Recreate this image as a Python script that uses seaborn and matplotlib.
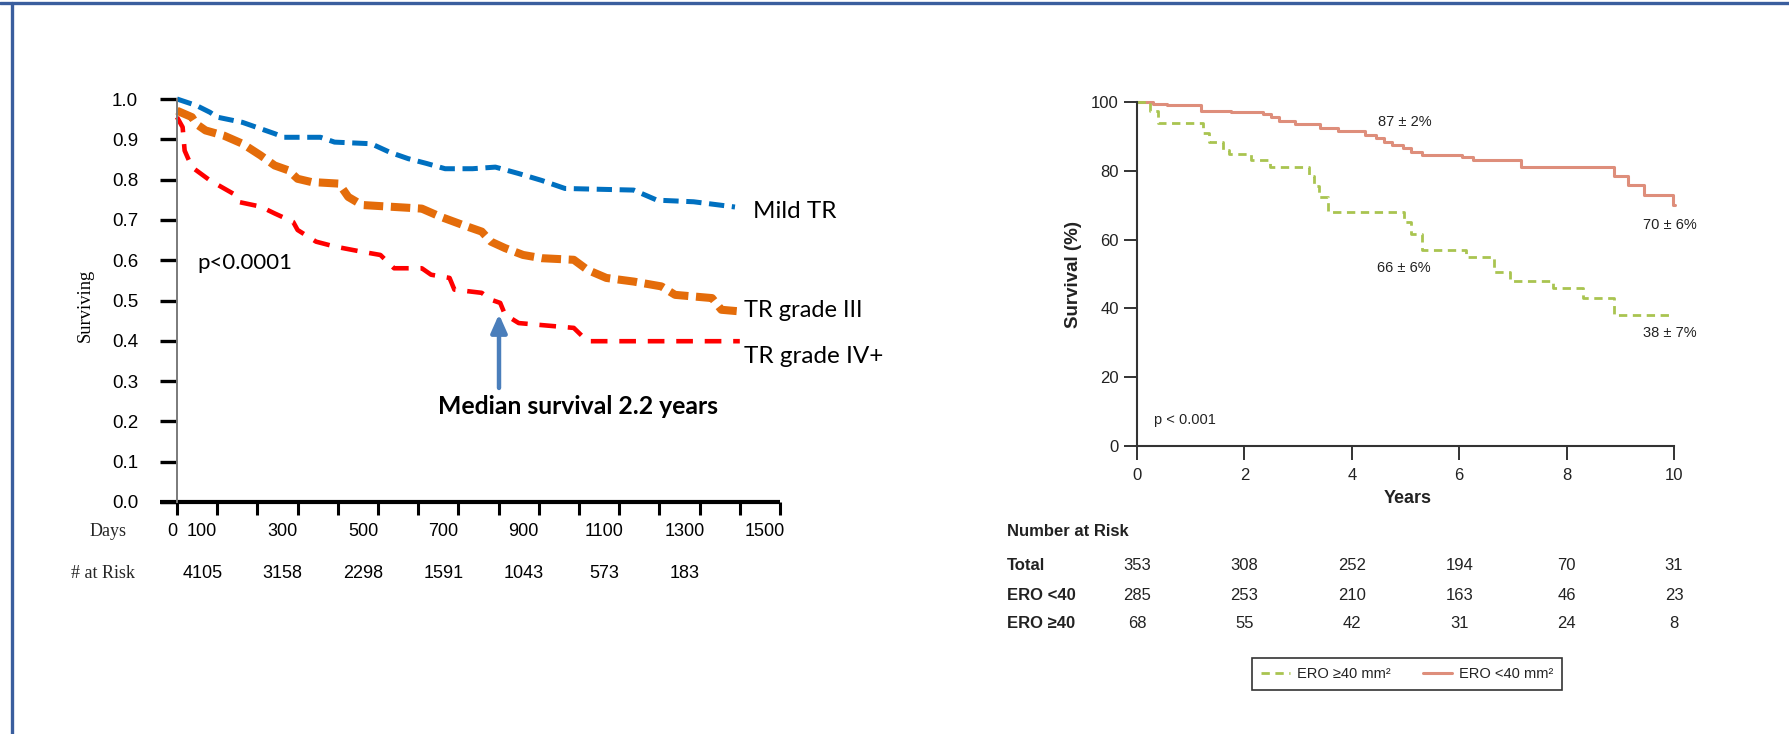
import matplotlib
matplotlib.use("Agg")
import matplotlib.pyplot as plt
import seaborn as sns
import numpy as np
import pandas as pd
from matplotlib import transforms as mtransforms
from matplotlib.lines import Line2D

# ---------------- data: left chart (days vs surviving fraction) ----------------
mild_days = [0, 48, 82, 100, 163, 243, 266, 357, 392, 483, 529, 575, 621, 667, 735, 792, 850, 907, 965, 1136, 1194, 1285, 1388]
mild_surv = [1.0, 0.984, 0.967, 0.955, 0.942, 0.914, 0.905, 0.905, 0.893, 0.889, 0.868, 0.852, 0.84, 0.827, 0.827, 0.831, 0.815, 0.798, 0.778, 0.774, 0.749, 0.745, 0.732]
g3_days = [0, 37, 48, 71, 117, 163, 208, 243, 277, 300, 334, 403, 426, 460, 609, 655, 712, 758, 781, 816, 861, 907, 987, 1021, 1068, 1136, 1205, 1239, 1331, 1354, 1400]
g3_surv = [0.971, 0.955, 0.938, 0.922, 0.909, 0.889, 0.86, 0.835, 0.823, 0.802, 0.794, 0.79, 0.757, 0.737, 0.728, 0.708, 0.687, 0.671, 0.646, 0.63, 0.613, 0.605, 0.601, 0.576, 0.556, 0.547, 0.535, 0.514, 0.506, 0.477, 0.473]
g4_days = [0, 14, 19, 37, 82, 140, 151, 208, 243, 289, 300, 346, 392, 460, 506, 540, 609, 632, 678, 690, 758, 781, 804, 816, 850, 987, 1021, 1400]
g4_surv = [0.955, 0.93, 0.872, 0.831, 0.798, 0.765, 0.745, 0.733, 0.716, 0.695, 0.675, 0.646, 0.634, 0.621, 0.613, 0.58, 0.58, 0.564, 0.556, 0.527, 0.519, 0.502, 0.494, 0.465, 0.444, 0.432, 0.399, 0.399]
left_series = ["Mild TR", "TR grade III", "TR grade IV+"]
day_labels = [0, 100, 300, 500, 700, 900, 1100, 1300, 1500]
risk_days = [100, 300, 500, 700, 900, 1100, 1300]
risk_counts = [4105, 3158, 2298, 1591, 1043, 573, 183]
left_yticks = [0.0, 0.1, 0.2, 0.3, 0.4, 0.5, 0.6, 0.7, 0.8, 0.9, 1.0]

# ---------------- data: right chart (years vs survival %) ----------------
lo_years = [0, 0.3, 0.55, 1.2, 1.75, 2.35, 2.5, 2.65, 2.95, 3.4, 3.75, 4.25, 4.45, 4.6, 4.75, 4.95, 5.1, 5.3, 6.05, 6.25, 7.15, 8.88, 9.15, 9.45, 9.98, 10.02]
lo_surv = [100, 99.5, 99, 97.5, 97, 96.5, 95.5, 94.5, 93.5, 92.5, 91.5, 90.5, 89.5, 88.5, 87.5, 86.5, 85.5, 84.5, 84, 83, 81, 78.5, 76, 73, 70, 70]
hi_years = [0, 0.25, 0.4, 1.22, 1.35, 1.6, 1.72, 2.12, 2.48, 3.2, 3.3, 3.38, 3.55, 4.97, 5.1, 5.3, 6.12, 6.65, 6.95, 7.75, 8.3, 8.88, 10.0]
hi_surv = [100, 97.5, 94, 91, 88.5, 86, 85, 83, 81, 78.5, 75.5, 72.5, 68, 65, 61.5, 57, 55, 50.5, 48, 46, 43, 38, 38]
right_labels = ["ERO \u226540 mm\u00b2", "ERO <40 mm\u00b2"]
year_ticks = [0, 2, 4, 6, 8, 10]
pct_ticks = [0, 20, 40, 60, 80, 100]
risk_rows = ["Total", "ERO <40", "ERO \u226540"]
risk_total = [353, 308, 252, 194, 70, 31]
risk_lo = [285, 253, 210, 163, 46, 23]
risk_hi = [68, 55, 42, 31, 24, 8]
annot_text = ["87 \u00b1 2%", "70 \u00b1 6%", "66 \u00b1 6%", "38 \u00b1 7%"]
annot_x = [4.98, 9.93, 4.97, 9.93]
annot_y = [94.2, 64.2, 51.7, 32.8]

# ---------------- style ----------------
sns.set_theme(style="white")
plt.rcParams["font.family"] = ["Liberation Sans", "DejaVu Sans"]
plt.rcParams["lines.scale_dashes"] = False

W, H = 1790, 734
fig = plt.figure(figsize=(W / 100, H / 100), dpi=100)
fig.patch.set_facecolor("white")

def fx(px):
    return px / W

def fy(py):
    return 1 - py / H

# page border (blue lines top and left)
border_c = "#3A5E9E"
fig.add_artist(Line2D([0, 1], [fy(3), fy(3)], transform=fig.transFigure, color=border_c, lw=2.4))
fig.add_artist(Line2D([fx(12), fx(12)], [0, fy(3)], transform=fig.transFigure, color=border_c, lw=2.4))

# ================= LEFT CHART =================
ax = fig.add_axes([fx(177), fy(502), fx(780) - fx(177), (502 - 99) / H])
ax.set_facecolor("none")
colors_l = ["#0070C0", "#E46C0A", "#FF0000"]
lws = [3.6, 5.8, 3.3]
dashes_l = [(0, (11, 5.5)), (0, (14, 5.5)), (0, (12, 8.5))]
for name, d, s, c, lw, ls in zip(left_series, [mild_days, g3_days, g4_days],
                                 [mild_surv, g3_surv, g4_surv], colors_l, lws, dashes_l):
    df = pd.DataFrame({"day": d, "surv": s})
    sns.lineplot(data=df, x="day", y="surv", ax=ax, color=c, linewidth=lw,
                 sort=False, estimator=None)
    ln = ax.lines[-1]
    ln.set_linestyle(ls)
    ln.set_solid_capstyle("butt")
    ln.set_dash_capstyle("butt")
    ln.set_clip_on(False)

ax.set_xlim(0, 1500)
ax.set_ylim(0, 1.0)
for sp in ["top", "right"]:
    ax.spines[sp].set_visible(False)
ax.spines["left"].set_color("#7a7a7a")
ax.spines["left"].set_linewidth(1.4)
ax.spines["bottom"].set_visible(False)
# thick x baseline extending left to tick ends
ax.plot([-17 / 603, 1.0], [0, 0], transform=ax.transAxes, color="black", lw=3.0, clip_on=False,
        solid_capstyle="butt")

ax.set_yticks(left_yticks)
ax.set_yticklabels([f"{v:.1f}" for v in left_yticks])
ax.tick_params(axis="y", direction="out", length=12, width=2.4, color="black", pad=16,
               labelsize=13.5, labelcolor="black", left=True)
ax.set_xticks(np.arange(0, 1501, 100))
ax.set_xticklabels([])
ax.tick_params(axis="x", direction="out", length=9.5, width=2.2, color="black", bottom=True)
ax.set_xlabel("")
ax.set_ylabel("Surviving", family=["Liberation Serif"], fontsize=13.3, color="black")
ax.yaxis.set_label_coords((94 - 177) / 603, (502 - 305) / 403)

# day labels (slightly shifted left, as in original)
lab_tr = mtransforms.blended_transform_factory(ax.transData, fig.transFigure)
for d in day_labels:
    off = -5 if d == 0 else -15
    t = lab_tr + mtransforms.ScaledTranslation(off / 100, 0, fig.dpi_scale_trans)
    ax.text(d, fy(532), str(d), transform=t, ha="center", va="center", fontsize=13, color="black")
for d, n in zip(risk_days, risk_counts):
    t = lab_tr + mtransforms.ScaledTranslation(-15 / 100, 0, fig.dpi_scale_trans)
    ax.text(d, fy(573), str(n), transform=t, ha="center", va="center", fontsize=13, color="black")
fig.text(fx(108), fy(532), "Days", ha="center", va="center", fontsize=13, family=["Liberation Serif"])
fig.text(fx(103), fy(573), "# at Risk", ha="center", va="center", fontsize=13, family=["Liberation Serif"])

# annotations
cal = ["Lato", "DejaVu Sans"]
ax.text(50, 0.593, "p<0.0001", fontsize=16, family=cal, ha="left", va="center", color="black")
ax.text(1433, 0.72, left_series[0], fontsize=17.5, family=cal, ha="left", va="center", color="black")
ax.text(1410, 0.476, left_series[1], fontsize=17, family=cal, ha="left", va="center", color="black")
ax.text(1410, 0.362, left_series[2], fontsize=17.5, family=cal, ha="left", va="center", color="black")
ax.annotate("", xy=(801, 0.466), xytext=(801, 0.283),
            arrowprops=dict(arrowstyle="-|>,head_length=0.9,head_width=0.4", color="#4A7EBB", lw=3.2,
                            shrinkA=0, shrinkB=0))
ax.text(997, 0.238, "Median survival 2.2 years", fontsize=17.8, family=cal, weight="bold",
        ha="center", va="center", color="black")

# ================= RIGHT CHART =================
ax2 = fig.add_axes([fx(1137), fy(446), fx(1674) - fx(1137), (446 - 102) / H])
ax2.set_facecolor("none")
c_lo = "#DE8E7B"
c_hi = "#A9C450"
df_hi = pd.DataFrame({"yr": hi_years, "s": hi_surv})
df_lo = pd.DataFrame({"yr": lo_years, "s": lo_surv})
sns.lineplot(data=df_lo, x="yr", y="s", ax=ax2, color=c_lo, linewidth=2.2, drawstyle="steps-post",
             sort=False, estimator=None, label=right_labels[1])
ln_lo = ax2.lines[-1]
ln_lo.set_clip_on(False)
sns.lineplot(data=df_hi, x="yr", y="s", ax=ax2, color=c_hi, linewidth=2.0, drawstyle="steps-post",
             sort=False, estimator=None, label=right_labels[0])
ln_hi = ax2.lines[-1]
ln_hi.set_linestyle((0, (6, 4)))
ln_hi.set_clip_on(False)

ax2.set_xlim(0, 10)
ax2.set_ylim(0, 100)
for sp in ["top", "right"]:
    ax2.spines[sp].set_visible(False)
for sp in ["left", "bottom"]:
    ax2.spines[sp].set_color("#333333")
    ax2.spines[sp].set_linewidth(1.5)
ax2.set_xticks(year_ticks)
ax2.set_yticks(pct_ticks)
ax2.tick_params(axis="x", direction="out", length=10, width=1.4, color="#333333",
                labelsize=12, labelcolor="#222222", bottom=True, pad=6)
ax2.tick_params(axis="y", direction="out", length=9.5, width=1.4, color="#333333",
                labelsize=12, labelcolor="#222222", left=True, pad=3.5)
ax2.set_xlabel("Years", fontsize=13, weight="bold", color="#222222")
ax2.set_ylabel("Survival (%)", fontsize=13.5, weight="bold", color="#222222")
ax2.xaxis.set_label_coords((1408 - 1137) / 537, -(490 - 446) / 344)
ax2.yaxis.set_label_coords(-(1137 - 1082) / 537, (446 - 274) / 344)

for t, x, y in zip(annot_text, annot_x, annot_y):
    ax2.text(x, y, t, fontsize=10.5, ha="center", va="center", color="#222222")
ax2.text(0.32, 7.6, "p < 0.001", fontsize=10.5, ha="left", va="center", color="#222222")

# legend (green first)
leg = ax2.legend(handles=[ln_hi, ln_lo], labels=right_labels, ncol=2, loc="center",
                 bbox_to_anchor=(fx(1407), fy(674)), bbox_transform=fig.transFigure,
                 frameon=True, fancybox=False, fontsize=10.5, handlelength=2.0,
                 columnspacing=2.2, handletextpad=0.5, borderpad=0.6)
leg.get_frame().set_edgecolor("black")
leg.get_frame().set_linewidth(1.2)
for txt in leg.get_texts():
    txt.set_color("#222222")

# number at risk table
fig.text(fx(1007), fy(532), "Number at Risk", fontsize=12, weight="bold", ha="left", va="center", color="#222222")
tbl_tr = mtransforms.blended_transform_factory(ax2.transData, fig.transFigure)
for row, vals, py in zip(risk_rows, [risk_total, risk_lo, risk_hi], [566, 595, 623]):
    fig.text(fx(1007), fy(py), row, fontsize=12, weight="bold", ha="left", va="center", color="#222222")
    for x, v in zip(year_ticks, vals):
        ax2.text(x, fy(py), str(v), transform=tbl_tr, fontsize=12, ha="center", va="center", color="#222222")

fig.savefig("out.png", dpi=100, facecolor="white")
